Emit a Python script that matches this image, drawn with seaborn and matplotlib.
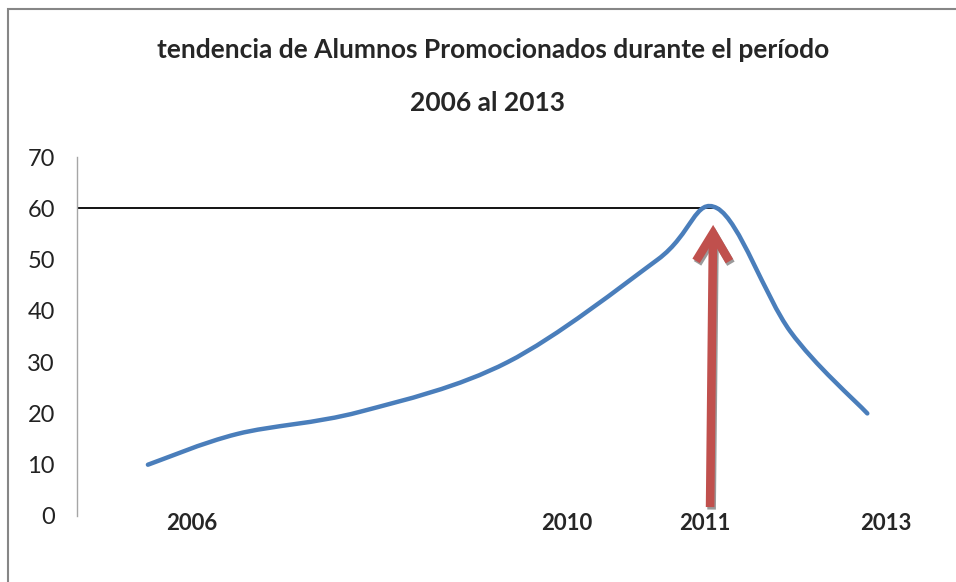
import numpy as np
import seaborn as sns
import matplotlib.pyplot as plt
from matplotlib.path import Path
from matplotlib.patches import PathPatch, FancyArrowPatch, Rectangle
from matplotlib import transforms

# data (x in fractional years, y = alumnos promocionados)
anios = [2006.0, 2006.87, 2008.06, 2009.5, 2010.96, 2011.54, 2012.25, 2013.0]
promocionados = [10, 16, 20.3, 30, 50, 60, 36, 20]

# year labels sit where the text boxes were placed in the original
etiquetas = ["2006", "2010", "2011", "2013"]
pos_etiquetas = [2006.43, 2010.08, 2011.42, 2013.18]

maximo = 60
anio_max = 2011.5

sns.set_theme(style="white")
plt.rcParams["font.family"] = ["Lato", "DejaVu Sans"]

fig = plt.figure(figsize=(9.56, 5.82), dpi=100)
ax = fig.add_axes([77 / 956, 1 - 516 / 582, (930 - 77) / 956, (516 - 157) / 582])

#%% smooth line (Excel style bezier through the points)
P = np.column_stack([anios, promocionados]).astype(float)
n = len(P)
tang = np.zeros_like(P)
for i in range(n):
    a = P[max(i - 1, 0)]
    b = P[min(i + 1, n - 1)]
    tang[i] = (b - a) / 6
verts = [P[0]]
codes = [Path.MOVETO]
for i in range(n - 1):
    verts += [P[i] + tang[i], P[i + 1] - tang[i + 1], P[i + 1]]
    codes += [Path.CURVE4] * 3
ax.add_patch(PathPatch(Path(verts, codes), fill=False, edgecolor="#4A7EBB",
                       lw=3.2, capstyle="round", joinstyle="round", zorder=3))

# reference line at the maximum
ax.plot([2005.31, anio_max + 0.06], [maximo, maximo], color="black", lw=1.3, zorder=2)

# arrow pointing to the peak, with its grey shadow
sombra = transforms.offset_copy(ax.transData, fig=fig, x=1.5, y=-2.5, units="dots")
for trans, col, z in [(sombra, "#9a9a9a", 4), (ax.transData, "#C0504D", 5)]:
    ax.add_patch(FancyArrowPatch((anio_max - 0.03, 1.2), (anio_max, 57.3),
                                 arrowstyle="->,head_length=2.0,head_width=1.2",
                                 mutation_scale=10, lw=6.2, color=col,
                                 capstyle="butt", joinstyle="miter",
                                 transform=trans, zorder=z))

ax.set_xlim(2005.31, 2013.61)
ax.set_ylim(0, 70)
ax.set_yticks(range(0, 71, 10))
ax.set_xticks(pos_etiquetas)
ax.set_xticklabels(etiquetas, fontweight="bold", fontsize=16)
ax.tick_params(axis="y", length=0, pad=16, labelsize=17, labelcolor="#222222")
ax.tick_params(axis="x", length=0, pad=-2)
for s in ["top", "right", "bottom"]:
    ax.spines[s].set_visible(False)
ax.spines["left"].set_color("#a6a6a6")
ax.spines["left"].set_linewidth(1)

fig.text(493 / 956, 1 - 50 / 582, "tendencia de Alumnos Promocionados durante el período",
         ha="center", va="center", fontsize=19, fontweight="bold")
fig.text(487 / 956, 1 - 103 / 582, "2006 al 2013",
         ha="center", va="center", fontsize=19, fontweight="bold")

# chart frame
fig.add_artist(Rectangle((8 / 956, -0.1), 1.2, 1.1 - 9 / 582, transform=fig.transFigure,
                         fill=False, edgecolor="#868686", lw=1.5))

fig.savefig("out.png", dpi=100)
